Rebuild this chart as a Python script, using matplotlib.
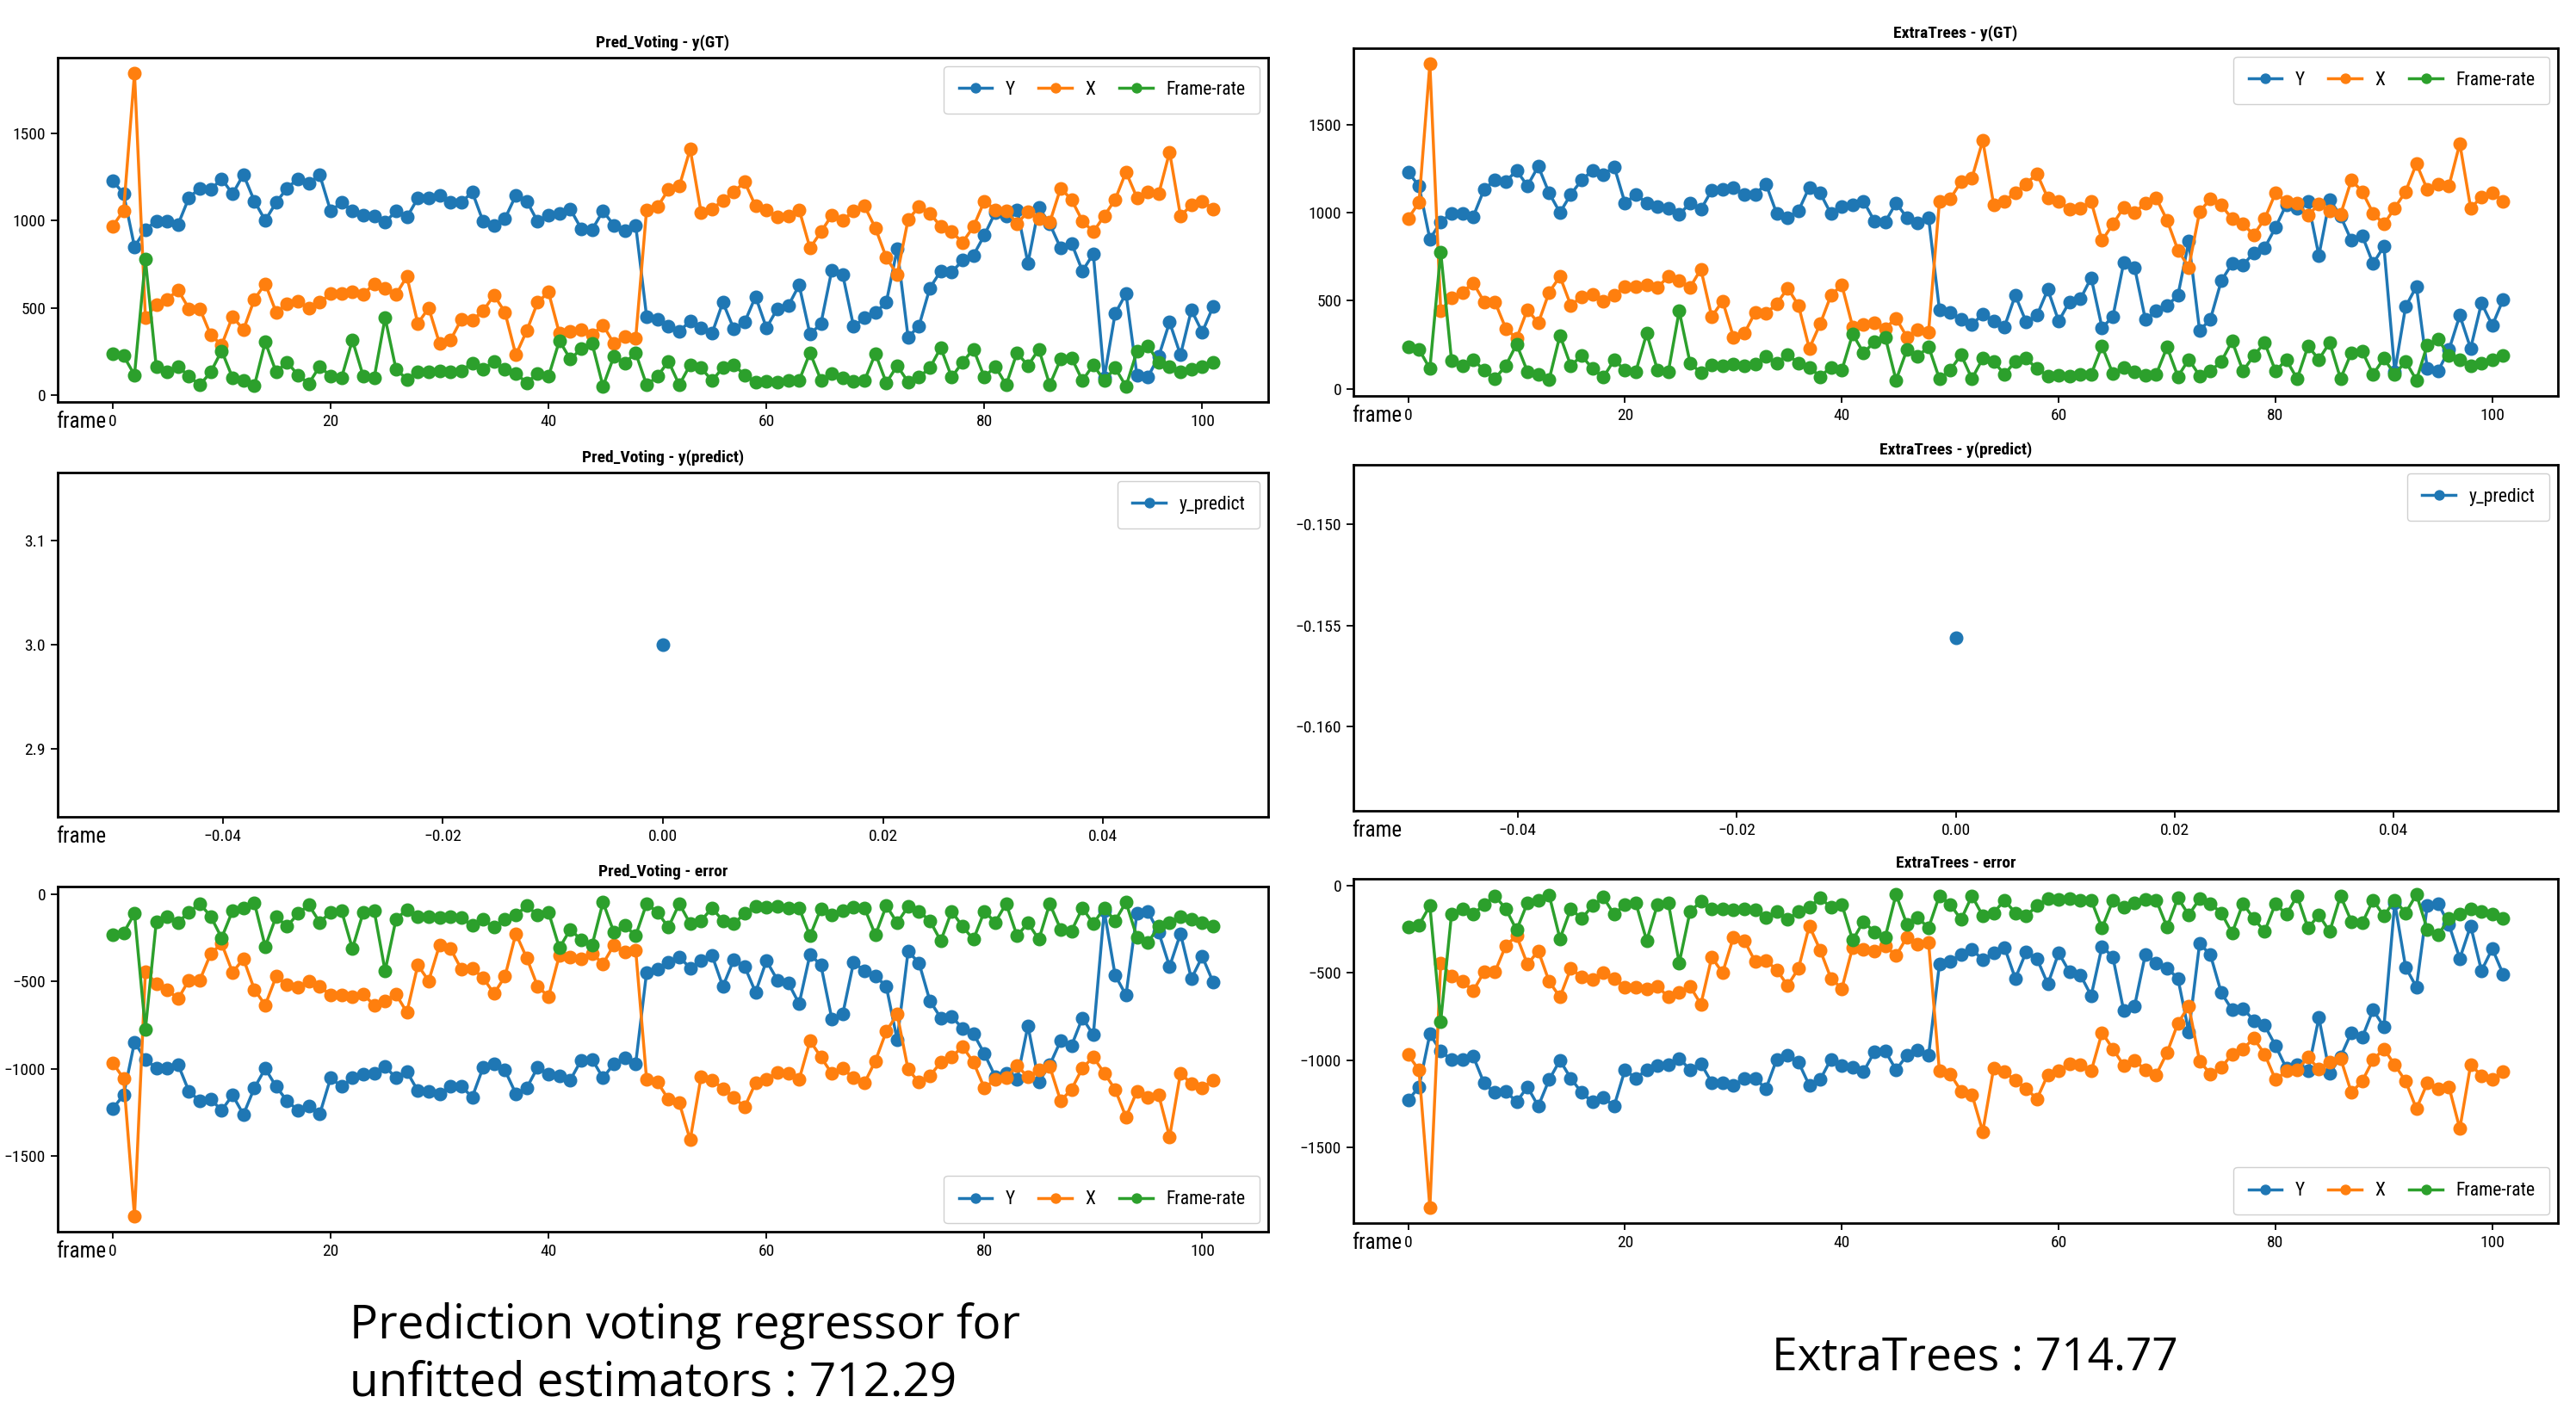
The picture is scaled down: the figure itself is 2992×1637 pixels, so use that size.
import numpy as np
import matplotlib
matplotlib.use("Agg")
import matplotlib.pyplot as plt
from matplotlib import font_manager

frames = list(range(102))
gt_y = [1230, 1153, 850, 948, 998, 998, 978, 1132, 1186, 1177,
        1240, 1153, 1264, 1112, 1001, 1104, 1186, 1240, 1215, 1262,
        1055, 1104, 1055, 1033, 1027, 989, 1055, 1019, 1128, 1132,
        1145, 1104, 1104, 1164, 994, 973, 1011, 1145, 1112, 994,
        1033, 1043, 1066, 953, 948, 1055, 973, 940, 973, 450,
        433, 392, 363, 425, 384, 352, 531, 379, 417, 564,
        384, 494, 510, 630, 347, 409, 716, 690, 392, 442,
        471, 531, 837, 330, 396, 613, 711, 703, 772, 801,
        916, 1047, 1027, 1063, 756, 1076, 981, 842, 870, 711,
        809, 98, 466, 581, 114, 101, 221, 417, 229, 487,
        360, 507]
gt_x = [968, 1058, 1845, 445, 515, 548, 602, 494, 494, 343,
        286, 450, 373, 548, 638, 474, 523, 536, 499, 531,
        580, 580, 589, 576, 638, 613, 576, 679, 409, 499,
        294, 314, 433, 428, 482, 572, 474, 229, 368, 531,
        589, 352, 363, 373, 343, 401, 294, 335, 323, 1063,
        1079, 1177, 1197, 1410, 1047, 1066, 1115, 1164, 1222, 1083,
        1063, 1022, 1027, 1063, 842, 935, 1030, 1001, 1055, 1083,
        957, 788, 690, 1006, 1079, 1043, 965, 935, 875, 965,
        1112, 1063, 1055, 984, 1050, 1011, 989, 1186, 1120, 998,
        935, 1027, 1120, 1279, 1132, 1164, 1153, 1393, 1027, 1088,
        1112, 1066]
gt_fr = [237, 224, 114, 777, 160, 131, 164, 106, 57, 131,
         253, 98, 82, 52, 303, 131, 188, 114, 65, 164,
         106, 98, 314, 106, 98, 442, 147, 90, 134, 131,
         139, 131, 139, 183, 147, 193, 147, 123, 69, 123,
         106, 311, 204, 265, 294, 49, 221, 183, 240, 57,
         106, 193, 57, 172, 155, 82, 155, 172, 114, 74,
         78, 74, 82, 82, 242, 85, 123, 98, 78, 82,
         237, 69, 167, 74, 101, 155, 270, 101, 188, 262,
         101, 164, 57, 242, 167, 262, 57, 204, 213, 82,
         172, 82, 155, 49, 249, 281, 188, 164, 131, 147,
         164, 188]

models = ["Pred_Voting", "ExtraTrees"]
y_predict = [3.0, -0.1556]
predict_ticks = [[2.9, 3.0, 3.1], [-0.160, -0.155, -0.150]]
score_lines = [["Prediction voting regressor for", "unfitted estimators : 712.29"],
               ["ExtraTrees : 714.77"]]

# the screenshots use a squeezed font; take a narrow face if one is installed
names = {f.name for f in font_manager.fontManager.ttflist}
narrow = None
for cand in ["Liberation Sans Narrow", "Roboto Condensed", "Open Sans Condensed",
             "Noto Sans Condensed", "DejaVu Sans Condensed"]:
    if cand in names:
        narrow = cand
        break
if narrow is None:
    narrow = "DejaVu Sans"
    plt.rcParams["font.stretch"] = "condensed"
plt.rcParams["font.family"] = [narrow, "DejaVu Sans"]

W, H = 2992, 1637
fig = plt.figure(figsize=(W / 100, H / 100), dpi=100)

# axes boxes in pixels: (left, top, right, bottom)
boxes = {
    0: [(67, 67, 1473, 467), (67, 549, 1473, 949), (67, 1030, 1473, 1431)],
    1: [(1572, 56, 2971, 460), (1572, 540, 2971, 942), (1572, 1021, 2971, 1421)],
}


def make_ax(b):
    l, t, r, btm = b
    ax = fig.add_axes([l / W, 1 - btm / H, (r - l) / W, (btm - t) / H])
    for s in ax.spines.values():
        s.set_linewidth(2.0)
    ax.tick_params(labelsize=14, length=6, width=1.3, pad=4)
    ax.text(-0.001, -0.028, "frame", transform=ax.transAxes, ha="left", va="top",
            fontsize=18)
    return ax


def style_kw():
    return dict(marker="o", markersize=10.5, linewidth=2.5)


def add_legend(ax, loc, ncol):
    ax.legend(loc=loc, ncol=ncol, fontsize=15.5, handlelength=1.8,
              columnspacing=1.3, handletextpad=0.7, borderpad=0.8,
              borderaxespad=0.45, framealpha=1.0, edgecolor="#d0d0d0",
              markerscale=0.75)


gt = {"Y": np.array(gt_y), "X": np.array(gt_x), "Frame-rate": np.array(gt_fr)}

for col, name in enumerate(models):
    b = boxes[col]

    ax1 = make_ax(b[0])
    for lab, vals in gt.items():
        ax1.plot(frames, vals, label=lab, **style_kw())
    ax1.set_xticks([0, 20, 40, 60, 80, 100])
    ax1.set_yticks([0, 500, 1000, 1500])
    ax1.set_title(name + " - y(GT)", fontsize=14, fontweight="bold", pad=9)
    add_legend(ax1, "upper right", 3)

    ax2 = make_ax(b[1])
    ax2.plot([0], [y_predict[col]], label="y_predict", **style_kw())
    ax2.set_yticks(predict_ticks[col])
    ax2.set_title(name + " - y(predict)", fontsize=14, fontweight="bold", pad=9)
    add_legend(ax2, "upper right", 1)

    ax3 = make_ax(b[2])
    for lab, vals in gt.items():
        ax3.plot(frames, y_predict[col] - vals, label=lab, **style_kw())
    ax3.set_xticks([0, 20, 40, 60, 80, 100])
    ax3.set_yticks([0, -500, -1000, -1500])
    ax3.set_title(name + " - error", fontsize=14, fontweight="bold", pad=9)
    add_legend(ax3, "lower right", 3)

cap_font = ["Open Sans", "DejaVu Sans"]
fig.text(406 / W, 1 - 1555 / H, score_lines[0][0], ha="left", va="baseline",
         fontsize=39.5, family=cap_font)
fig.text(406 / W, 1 - 1622 / H, score_lines[0][1], ha="left", va="baseline",
         fontsize=39.5, family=cap_font)
fig.text(2058 / W, 1 - 1591 / H, score_lines[1][0], ha="left", va="baseline",
         fontsize=38.3, family=cap_font)

fig.savefig("out.png", dpi=100, facecolor="white")
